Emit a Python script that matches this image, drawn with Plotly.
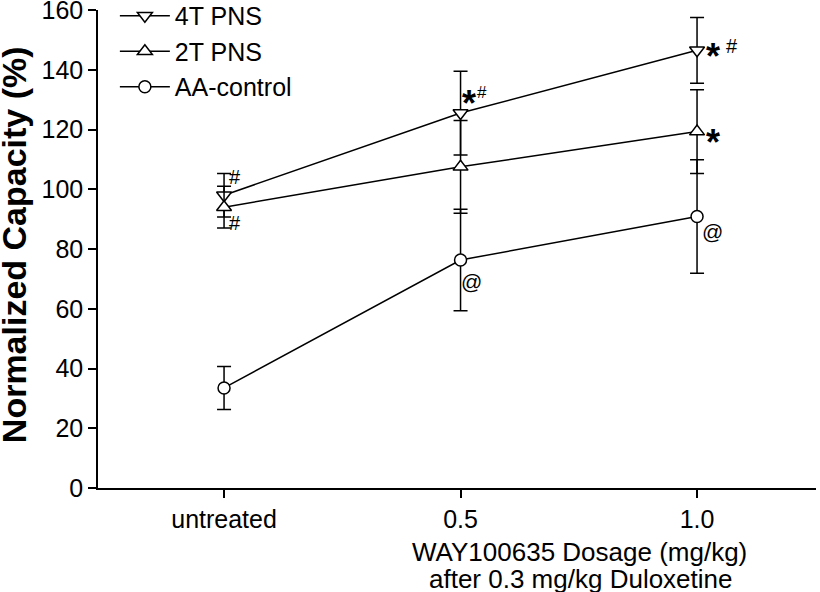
import plotly.graph_objects as go

categories = ["untreated", "0.5", "1.0"]
x_pos = [0, 1, 2]

pns4_mean = [98.0, 125.5, 146.5]
pns4_err = [7.3, 14.0, 11.0]
pns2_mean = [94.0, 107.5, 119.3]
pns2_err = [7.0, 15.5, 14.0]
aa_mean = [33.5, 76.3, 90.9]
aa_err = [7.2, 17.0, 19.0]

series_names = ["4T PNS", "2T PNS", "AA-control"]
y_ticks = [0, 20, 40, 60, 80, 100, 120, 140, 160]

means = [pns4_mean, pns2_mean, aa_mean]

# significance labels: (series index, x index, text, font size, bold, dx px, dy px)
sig_marks = [
    (0, 0, "#", 20, False, 11, 18),
    (1, 0, "#", 20, False, 11, -16),
    (0, 1, "*", 36, True, 8, 18),
    (0, 1, "#", 17, False, 21, 21),
    (2, 1, "@", 21, False, 11, -21),
    (0, 2, "*", 36, True, 16, 2),
    (0, 2, "#", 20, False, 35, 4),
    (1, 2, "*", 36, True, 16, -3),
    (2, 2, "@", 21, False, 15, -15),
]

FONT = "Liberation Sans, Arial, sans-serif"

fig = go.Figure()

def add_series(name, ys, errs, symbol, size, group):
    fig.add_trace(go.Scatter(
        x=x_pos, y=ys, name=name, mode="lines+markers",
        legendgroup=group,
        line=dict(color="black", width=1.5),
        marker=dict(symbol=symbol, size=size, color="white",
                    line=dict(color="black", width=1.5)),
        error_y=dict(type="data", array=errs, visible=True,
                     color="black", thickness=1.5, width=7),
    ))

add_series(series_names[0], pns4_mean, pns4_err, "triangle-down", 13, "a")
add_series(series_names[1], pns2_mean, pns2_err, "triangle-up", 13, "b")
add_series(series_names[2], aa_mean, aa_err, "circle", 12, "c")

for si, xi, txt, sz, bold, dx, dy in sig_marks:
    corr = -0.23 * sz if txt == "*" else 0
    fig.add_annotation(x=x_pos[xi], y=means[si][xi],
                       text=f"<b>{txt}</b>" if bold else txt,
                       showarrow=False, xshift=dx, yshift=dy + corr,
                       xanchor="center", yanchor="middle",
                       font=dict(family=FONT, size=sz, color="black"))

fig.add_annotation(xref="paper", yref="paper", x=0, y=0.508, xshift=-84,
                   xanchor="center", yanchor="middle",
                   text="<b>Normalized Capacity (%)</b>", textangle=-90,
                   showarrow=False, font=dict(family=FONT, size=34, color="black"))

fig.add_annotation(xref="paper", yref="paper", x=0.671, y=-0.134,
                   text="WAY100635 Dosage (mg/kg)",
                   showarrow=False, xanchor="center", yanchor="middle",
                   font=dict(family=FONT, size=26, color="black"))
fig.add_annotation(xref="paper", yref="paper", x=0.673, y=-0.19,
                   text="after 0.3 mg/kg Duloxetine",
                   showarrow=False, xanchor="center", yanchor="middle",
                   font=dict(family=FONT, size=26, color="black"))

fig.update_layout(
    width=820, height=592,
    margin=dict(l=98, r=4, t=10, b=104, autoexpand=False),
    paper_bgcolor="white", plot_bgcolor="white",
    font=dict(family=FONT, size=25, color="black"),
    showlegend=True,
    legend=dict(x=0.0235, y=1.0356, xanchor="left", yanchor="top",
                bgcolor="rgba(0,0,0,0)", tracegroupgap=0,
                font=dict(family=FONT, size=25, color="black"),
                itemwidth=50),
    xaxis=dict(range=[-0.533, 2.503], tickmode="array", tickvals=x_pos,
               ticktext=categories, showline=True, linecolor="black",
               linewidth=1.5, ticks="outside", ticklen=8, tickwidth=1.5,
               tickcolor="black", showgrid=False, zeroline=False,
               automargin=False, ticklabeloverflow="allow",
               tickfont=dict(family=FONT, size=25)),
    yaxis=dict(range=[0, 160], tickmode="array", tickvals=y_ticks,
               showline=True, linecolor="black", linewidth=1.5,
               ticks="outside", ticklen=8, tickwidth=1.5, tickcolor="black",
               showgrid=False, zeroline=False,
               automargin=False, ticklabeloverflow="allow",
               tickfont=dict(family=FONT, size=25)),
)

fig.write_html("out.html", config={"displayModeBar": False},
               post_script="document.body.style.margin='0';")
